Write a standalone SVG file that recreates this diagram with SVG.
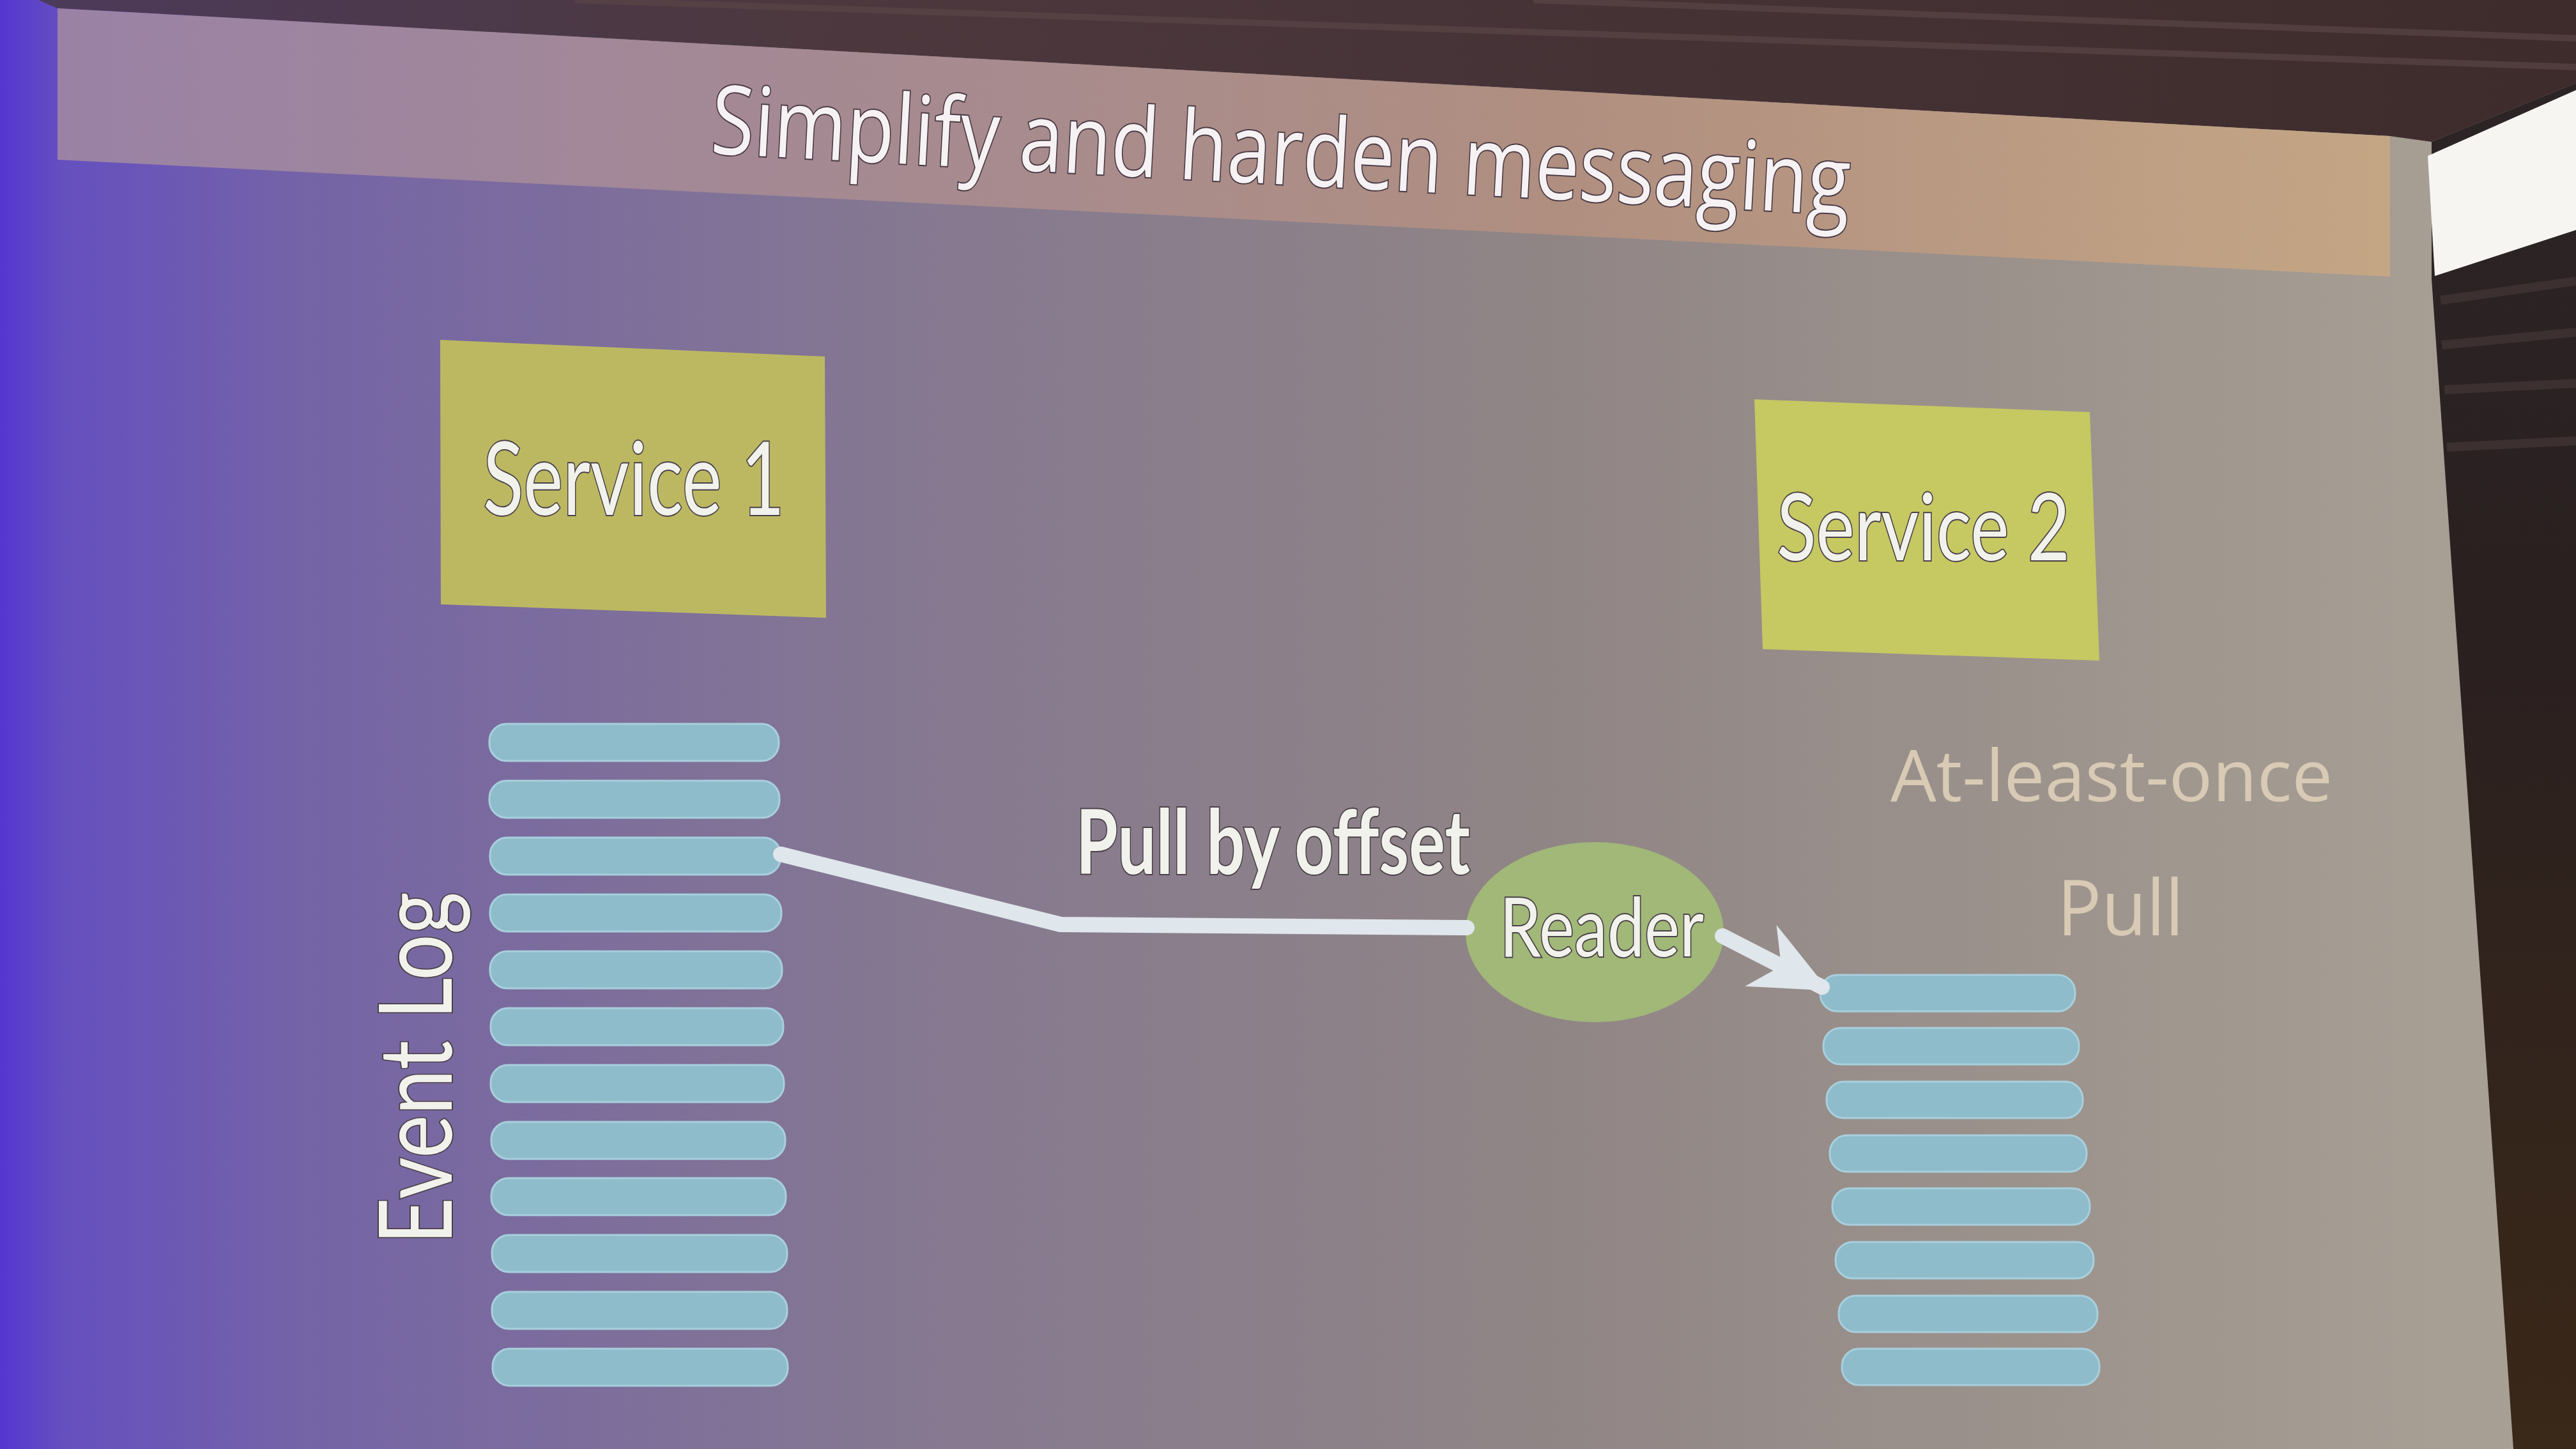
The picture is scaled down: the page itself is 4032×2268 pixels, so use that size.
<svg xmlns="http://www.w3.org/2000/svg" width="4032" height="2268" viewBox="0 0 4032 2268">
<defs>
<linearGradient id="body" x1="0" y1="0" x2="1" y2="0">
<stop offset="0" stop-color="#5536d2"/>
<stop offset="0.025" stop-color="#6550bf"/>
<stop offset="0.12" stop-color="#7564a6"/>
<stop offset="0.35" stop-color="#857891"/>
<stop offset="0.6" stop-color="#908585"/>
<stop offset="0.85" stop-color="#a0978f"/>
<stop offset="1" stop-color="#aaa196"/>
</linearGradient>
<linearGradient id="band" x1="0" y1="0" x2="1" y2="0">
<stop offset="0" stop-color="#9a82a6"/>
<stop offset="0.3" stop-color="#a48994"/>
<stop offset="0.65" stop-color="#b08f80"/>
<stop offset="1" stop-color="#c4a685"/>
</linearGradient>
<linearGradient id="ceil" x1="0" y1="0" x2="1" y2="0">
<stop offset="0" stop-color="#4c3a5a"/>
<stop offset="0.3" stop-color="#4c383e"/>
<stop offset="1" stop-color="#3e2c2c"/>
</linearGradient>
<linearGradient id="side" x1="0" y1="0" x2="0" y2="1">
<stop offset="0" stop-color="#2c2426"/>
<stop offset="0.4" stop-color="#2a2020"/>
<stop offset="1" stop-color="#3a2818"/>
</linearGradient>
<marker id="head" viewBox="0 0 10 10" refX="9" refY="5" markerUnits="userSpaceOnUse" markerWidth="120" markerHeight="120" orient="auto">
<path d="M0,0.5 L10,5 L0,9.5 L3,5 Z" fill="#dfe6ec"/>
</marker>
<style>
.bar{fill:#8fbccb;stroke:#a8cfdc;stroke-width:3}
.svc{stroke:none}
.hand{font-family:"Liberation Sans Narrow",Lato,"DejaVu Sans",sans-serif;fill:#f2f2ec;stroke:#4a4048;stroke-width:4;paint-order:stroke}
.plain{font-family:"Open Sans","Noto Sans",sans-serif;fill:#d8cab4}
.conn{fill:none;stroke:#dfe6ec;stroke-linejoin:round;stroke-linecap:round}
</style>
</defs>

<g id="scene">
<rect x="0" y="0" width="4032" height="2268" fill="url(#body)"/>
<polygon points="60,0 4032,0 4032,130 3806,222 3741,213 90,13" fill="url(#ceil)"/>
<path d="M900,0 L4032,105 M2400,0 L4032,60" stroke="#5a4446" stroke-width="10" fill="none" opacity="0.7"/>
<polygon points="3806,222 4032,130 4032,2268 3934,2268 3806,437" fill="url(#side)"/>
<polygon points="3800,244 4032,141 4032,360 3811,432" fill="#f7f5f2"/>
<path d="M3820,470 L4032,440 M3822,540 L4032,520 M3826,610 L4032,600 M3830,700 L4032,690" stroke="#3c3030" stroke-width="14" fill="none"/>
<polygon points="90,13 3741,213 3741,433 90,250" fill="url(#band)"/>
</g>

<g id="title">
<text x="1111" y="240" transform="rotate(3.1 1111 240)" font-family="'Open Sans','Noto Sans',sans-serif" font-size="150" fill="#f6f2f4" stroke="#4a3a44" stroke-width="4" paint-order="stroke" textLength="1785" lengthAdjust="spacingAndGlyphs">Simplify and harden messaging</text>
</g>

<g id="service1">
<polygon class="svc" points="689,532 1291,558 1293,967 690,946" fill="#bcb862"/>
<text class="hand" x="756" y="806" font-size="160" textLength="472" lengthAdjust="spacingAndGlyphs">Service 1</text>
</g>

<g id="service2">
<polygon class="svc" points="2746,625 3271,645 3286,1034 2759,1016" fill="#c6c862"/>
<text class="hand" x="2781" y="877" font-size="145" textLength="459" lengthAdjust="spacingAndGlyphs">Service 2</text>
</g>

<g id="event-log">
<rect class="bar" x="766" y="1133" width="453" height="58" rx="27"/>
<rect class="bar" x="766" y="1222" width="454" height="58" rx="27"/>
<rect class="bar" x="767" y="1311" width="455" height="58" rx="27"/>
<rect class="bar" x="767" y="1400" width="456" height="58" rx="27"/>
<rect class="bar" x="767" y="1489" width="457" height="58" rx="27"/>
<rect class="bar" x="768" y="1578" width="458" height="58" rx="27"/>
<rect class="bar" x="768" y="1667" width="459" height="58" rx="27"/>
<rect class="bar" x="769" y="1756" width="460" height="58" rx="27"/>
<rect class="bar" x="769" y="1844" width="461" height="58" rx="27"/>
<rect class="bar" x="770" y="1933" width="462" height="58" rx="27"/>
<rect class="bar" x="770" y="2022" width="462" height="58" rx="27"/>
<rect class="bar" x="771" y="2111" width="462" height="58" rx="27"/>
<text class="hand" transform="translate(707,1672) rotate(-90)" x="0" y="0" text-anchor="middle" font-size="160" textLength="552" lengthAdjust="spacingAndGlyphs">Event Log</text>
</g>

<g id="reader">
<ellipse cx="2496" cy="1459" rx="202" ry="141" fill="#a1b878"/>
<text class="hand" x="2347" y="1497" font-size="128" textLength="320" lengthAdjust="spacingAndGlyphs">Reader</text>
</g>

<g id="service2-log">
<rect class="bar" x="2849" y="1526" width="399" height="57" rx="27"/>
<rect class="bar" x="2854" y="1609" width="400" height="57" rx="27"/>
<rect class="bar" x="2859" y="1693" width="401" height="57" rx="27"/>
<rect class="bar" x="2864" y="1777" width="402" height="57" rx="27"/>
<rect class="bar" x="2868" y="1860" width="403" height="57" rx="27"/>
<rect class="bar" x="2873" y="1944" width="404" height="57" rx="27"/>
<rect class="bar" x="2878" y="2028" width="405" height="57" rx="27"/>
<rect class="bar" x="2883" y="2111" width="403" height="57" rx="27"/>
</g>

<g id="connectors">
<polyline class="conn" points="1222,1337 1660,1447 2296,1452" stroke-width="24"/>
<line class="conn" x1="2696" y1="1465" x2="2852" y2="1545" stroke-width="24" marker-end="url(#head)"/>
</g>

<g id="labels">
<text class="hand" x="1684" y="1368" font-size="140" font-weight="bold" textLength="617" lengthAdjust="spacingAndGlyphs">Pull by offset</text>
<text class="plain" x="2959" y="1254" font-size="112" textLength="692" lengthAdjust="spacingAndGlyphs">At-least-once</text>
<text class="plain" x="3220" y="1464" font-size="120" textLength="198" lengthAdjust="spacingAndGlyphs">Pull</text>
</g>
</svg>
